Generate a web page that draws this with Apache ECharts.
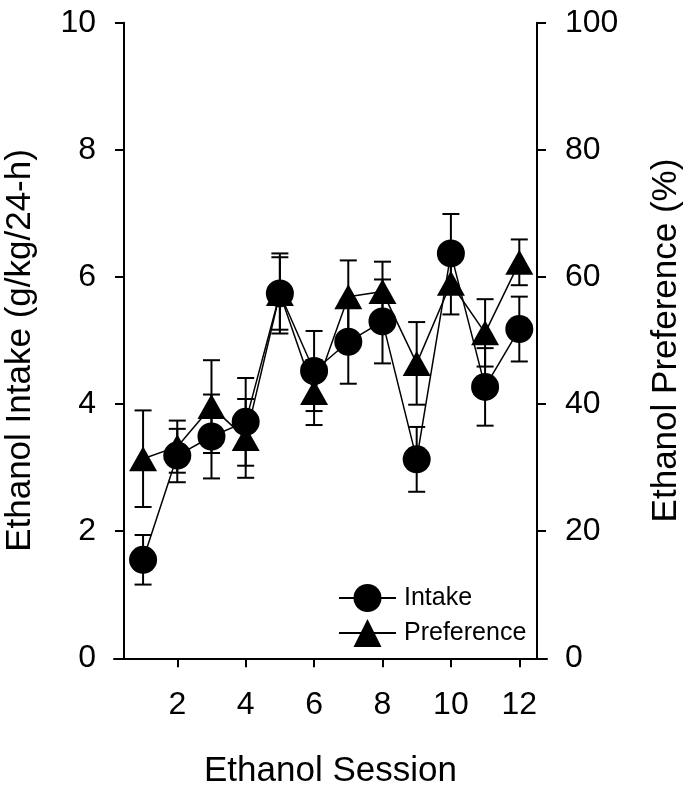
<!DOCTYPE html>
<html>
<head>
<meta charset="utf-8">
<script src="https://cdn.jsdelivr.net/npm/echarts@6/dist/echarts.min.js"></script>
<style>
  html, body { margin: 0; padding: 0; background: #fff; }
  #chart { width: 700px; height: 799px; }
</style>
</head>
<body>
<div id="chart"></div>
<script>
var sessions = [1, 2, 3, 4, 5, 6, 7, 8, 9, 10, 11, 12];
// Ethanol intake (g/kg/24-h), mean and error
var intake = [1.55, 3.19, 3.49, 3.72, 5.74, 4.52, 4.98, 5.30, 3.13, 6.37, 4.27, 5.18];
var intakeErr = [0.39, 0.42, 0.66, 0.69, 0.63, 0.63, 0.66, 0.66, 0.51, 0.62, 0.61, 0.51];
// Ethanol preference (%), mean and error
var preference = [31.4, 33.3, 39.6, 34.6, 57.4, 41.8, 56.9, 57.7, 46.4, 59.0, 51.2, 62.3];
var preferenceErr = [7.6, 4.1, 7.3, 6.2, 5.7, 5.1, 5.7, 4.7, 6.5, 4.9, 5.3, 3.6];
var xTicks = [2, 4, 6, 8, 10, 12];

var font = 'Liberation Sans, Arial, sans-serif';

function pairs(vals) {
    return sessions.map(function (s, i) { return [s, vals[i]]; });
}
function errRows(vals, errs) {
    return sessions.map(function (s, i) { return [s, vals[i] - errs[i], vals[i] + errs[i]]; });
}

function renderErr(params, api) {
    var lo = api.coord([api.value(0), api.value(1)]);
    var hi = api.coord([api.value(0), api.value(2)]);
    var w = 8.5;
    var st = { stroke: '#000', lineWidth: 2 };
    return {
        type: 'group',
        children: [
            { type: 'line', shape: { x1: lo[0], y1: lo[1], x2: hi[0], y2: hi[1] }, style: st },
            { type: 'line', shape: { x1: lo[0] - w, y1: lo[1], x2: lo[0] + w, y2: lo[1] }, style: st },
            { type: 'line', shape: { x1: hi[0] - w, y1: hi[1], x2: hi[0] + w, y2: hi[1] }, style: st }
        ]
    };
}

var myChart = echarts.init(document.getElementById('chart'));

var option = {
    backgroundColor: '#fff',
    animation: false,
    grid: {
        left: 114,
        right: 153,
        top: 22.7,
        bottom: 140.7,
        containLabel: false,
        outerBoundsMode: 'none'
    },
    legend: {
        data: ['Intake', 'Preference'],
        orient: 'vertical',
        left: 333,
        top: 579,
        itemWidth: 57,
        itemHeight: 35,
        itemGap: 7,
        textStyle: {
            fontFamily: font,
            fontSize: 25,
            color: '#000',
            padding: [0, 0, 0, 3]
        }
    },
    xAxis: {
        type: 'value',
        min: 0.15,
        max: 12.81,
        name: 'Ethanol Session',
        nameLocation: 'middle',
        nameGap: 96,
        nameTextStyle: { fontFamily: font, fontSize: 35, color: '#000' },
        axisLine: { lineStyle: { color: '#000', width: 2 } },
        axisTick: { length: 9, lineStyle: { color: '#000', width: 2 }, customValues: xTicks },
        axisLabel: { fontFamily: font, fontSize: 32, color: '#000', margin: 31, customValues: xTicks },
        splitLine: { show: false }
    },
    yAxis: [
        {
            type: 'value',
            min: 0,
            max: 10,
            interval: 2,
            offset: -10,
            name: 'Ethanol Intake (g/kg/24-h)',
            nameLocation: 'middle',
            nameRotate: 90,
            nameGap: 86,
            nameTextStyle: { fontFamily: font, fontSize: 35, color: '#000', padding: [0, 20, 0, 0] },
            axisLine: { show: true, lineStyle: { color: '#000', width: 2 } },
            axisTick: { show: true, length: 9, lineStyle: { color: '#000', width: 2 } },
            axisLabel: { fontFamily: font, fontSize: 32, color: '#000', margin: 28 },
            splitLine: { show: false }
        },
        {
            type: 'value',
            min: 0,
            max: 100,
            interval: 20,
            offset: -10,
            position: 'right',
            name: 'Ethanol Preference (%)',
            nameLocation: 'middle',
            nameRotate: 90,
            nameGap: 112,
            nameTextStyle: { fontFamily: font, fontSize: 35, color: '#000' },
            axisLine: { show: true, lineStyle: { color: '#000', width: 2 } },
            axisTick: { show: true, length: 9, lineStyle: { color: '#000', width: 2 } },
            axisLabel: { fontFamily: font, fontSize: 32, color: '#000', margin: 28 },
            splitLine: { show: false }
        }
    ],
    series: [
        {
            name: 'PreferenceErr',
            type: 'custom',
            yAxisIndex: 1,
            renderItem: renderErr,
            data: errRows(preference, preferenceErr),
            z: 1
        },
        {
            name: 'IntakeErr',
            type: 'custom',
            yAxisIndex: 0,
            renderItem: renderErr,
            data: errRows(intake, intakeErr),
            z: 1
        },
        {
            name: 'Preference',
            type: 'line',
            yAxisIndex: 1,
            data: pairs(preference),
            symbol: 'triangle',
            symbolSize: [28, 25],
            lineStyle: { color: '#000', width: 1.5 },
            itemStyle: { color: '#000' },
            z: 2
        },
        {
            name: 'Intake',
            type: 'line',
            yAxisIndex: 0,
            data: pairs(intake),
            symbol: 'circle',
            symbolSize: 28,
            lineStyle: { color: '#000', width: 1.5 },
            itemStyle: { color: '#000' },
            z: 3
        }
    ]
};

myChart.setOption(option);
</script>
</body>
</html>
